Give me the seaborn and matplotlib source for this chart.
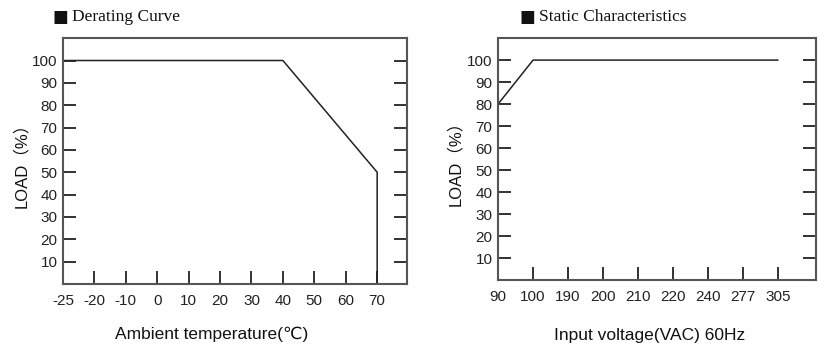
import matplotlib
matplotlib.use("Agg")
import matplotlib.pyplot as plt
import seaborn as sns
import pandas as pd

# Derating curve: x axis is categorical (evenly spaced labels)
temp_labels = ["-25", "-20", "-10", "0", "10", "20", "30", "40", "50", "60", "70"]
derating_temp = ["-25", "40", "70", "70"]
derating_load = [100, 100, 50, 0]

# Static characteristics
volt_labels = ["90", "100", "190", "200", "210", "220", "240", "277", "305"]
static_volt = ["90", "100", "305"]
static_load = [80, 100, 100]

load_ticks = [10, 20, 30, 40, 50, 60, 70, 80, 90, 100]

sns.set_theme(style="ticks")
plt.rcParams['font.family'] = ['Liberation Sans', 'DejaVu Sans', 'Noto Sans CJK SC']

df_der = pd.DataFrame({"pos": [temp_labels.index(t) for t in derating_temp],
                       "load": derating_load})
df_sta = pd.DataFrame({"pos": [volt_labels.index(v) for v in static_volt],
                       "load": static_load})

fig = plt.figure(figsize=(8.32, 3.61), dpi=100)
ax1 = fig.add_axes([0.0757, 0.2133, 0.4135, 0.681])
ax2 = fig.add_axes([0.5986, 0.2244, 0.382, 0.670])

spine_col = "#555555"
label_font = ['Liberation Sans', 'DejaVu Sans', 'Noto Sans CJK SC']


def style_axes(ax, labels, xmax, xlabel):
    ax.set_xlim(0, xmax)
    ax.set_ylim(0, 110)
    ax.set_xticks(range(len(labels)))
    ax.set_xticklabels(labels)
    ax.set_yticks(load_ticks)
    ax.set_yticklabels([str(v) for v in load_ticks])
    for s in ax.spines.values():
        s.set_visible(True)
        s.set_color(spine_col)
        s.set_linewidth(1.5)
    ax.tick_params(axis="y", direction="in", length=9.5, width=1.3,
                   left=True, right=True, labelsize=11, pad=4, colors="#222222")
    ax.tick_params(axis="x", direction="in", length=9.5, width=1.3,
                   bottom=True, top=False, labelsize=11, pad=7, colors="#222222")
    ax.set_xlabel(xlabel, fontsize=12.5, family=label_font, color="#111111")
    ax.set_ylabel("LOAD（%）", fontsize=12, family=label_font, color="#111111")
    ax.grid(False)


sns.lineplot(data=df_der, x="pos", y="load", sort=False, estimator=None,
             color="#222222", linewidth=1.1, ax=ax1)
style_axes(ax1, temp_labels, 10.95, "Ambient temperature(℃)")
ax1.xaxis.set_label_coords(0.433, -0.175)
ax1.yaxis.set_label_coords(-0.10, 0.5)

sns.lineplot(data=df_sta, x="pos", y="load", sort=False, estimator=None,
             color="#222222", linewidth=1.1, ax=ax2)
style_axes(ax2, volt_labels, 9.08, "Input voltage(VAC) 60Hz")
ax2.xaxis.set_label_coords(0.478, -0.2)
ax2.yaxis.set_label_coords(-0.11, 0.5)

for x_sq, x_txt, title in [(0.063, 0.0865, "Derating Curve"),
                           (0.624, 0.6475, "Static Characteristics")]:
    fig.text(x_sq, 0.952, "■", fontsize=12, family="DejaVu Sans",
             va="center", ha="left", color="#111111")
    fig.text(x_txt, 0.952, title, fontsize=12.5, family="Liberation Serif",
             va="center", ha="left", color="#111111")

fig.savefig("out.png", dpi=100)
